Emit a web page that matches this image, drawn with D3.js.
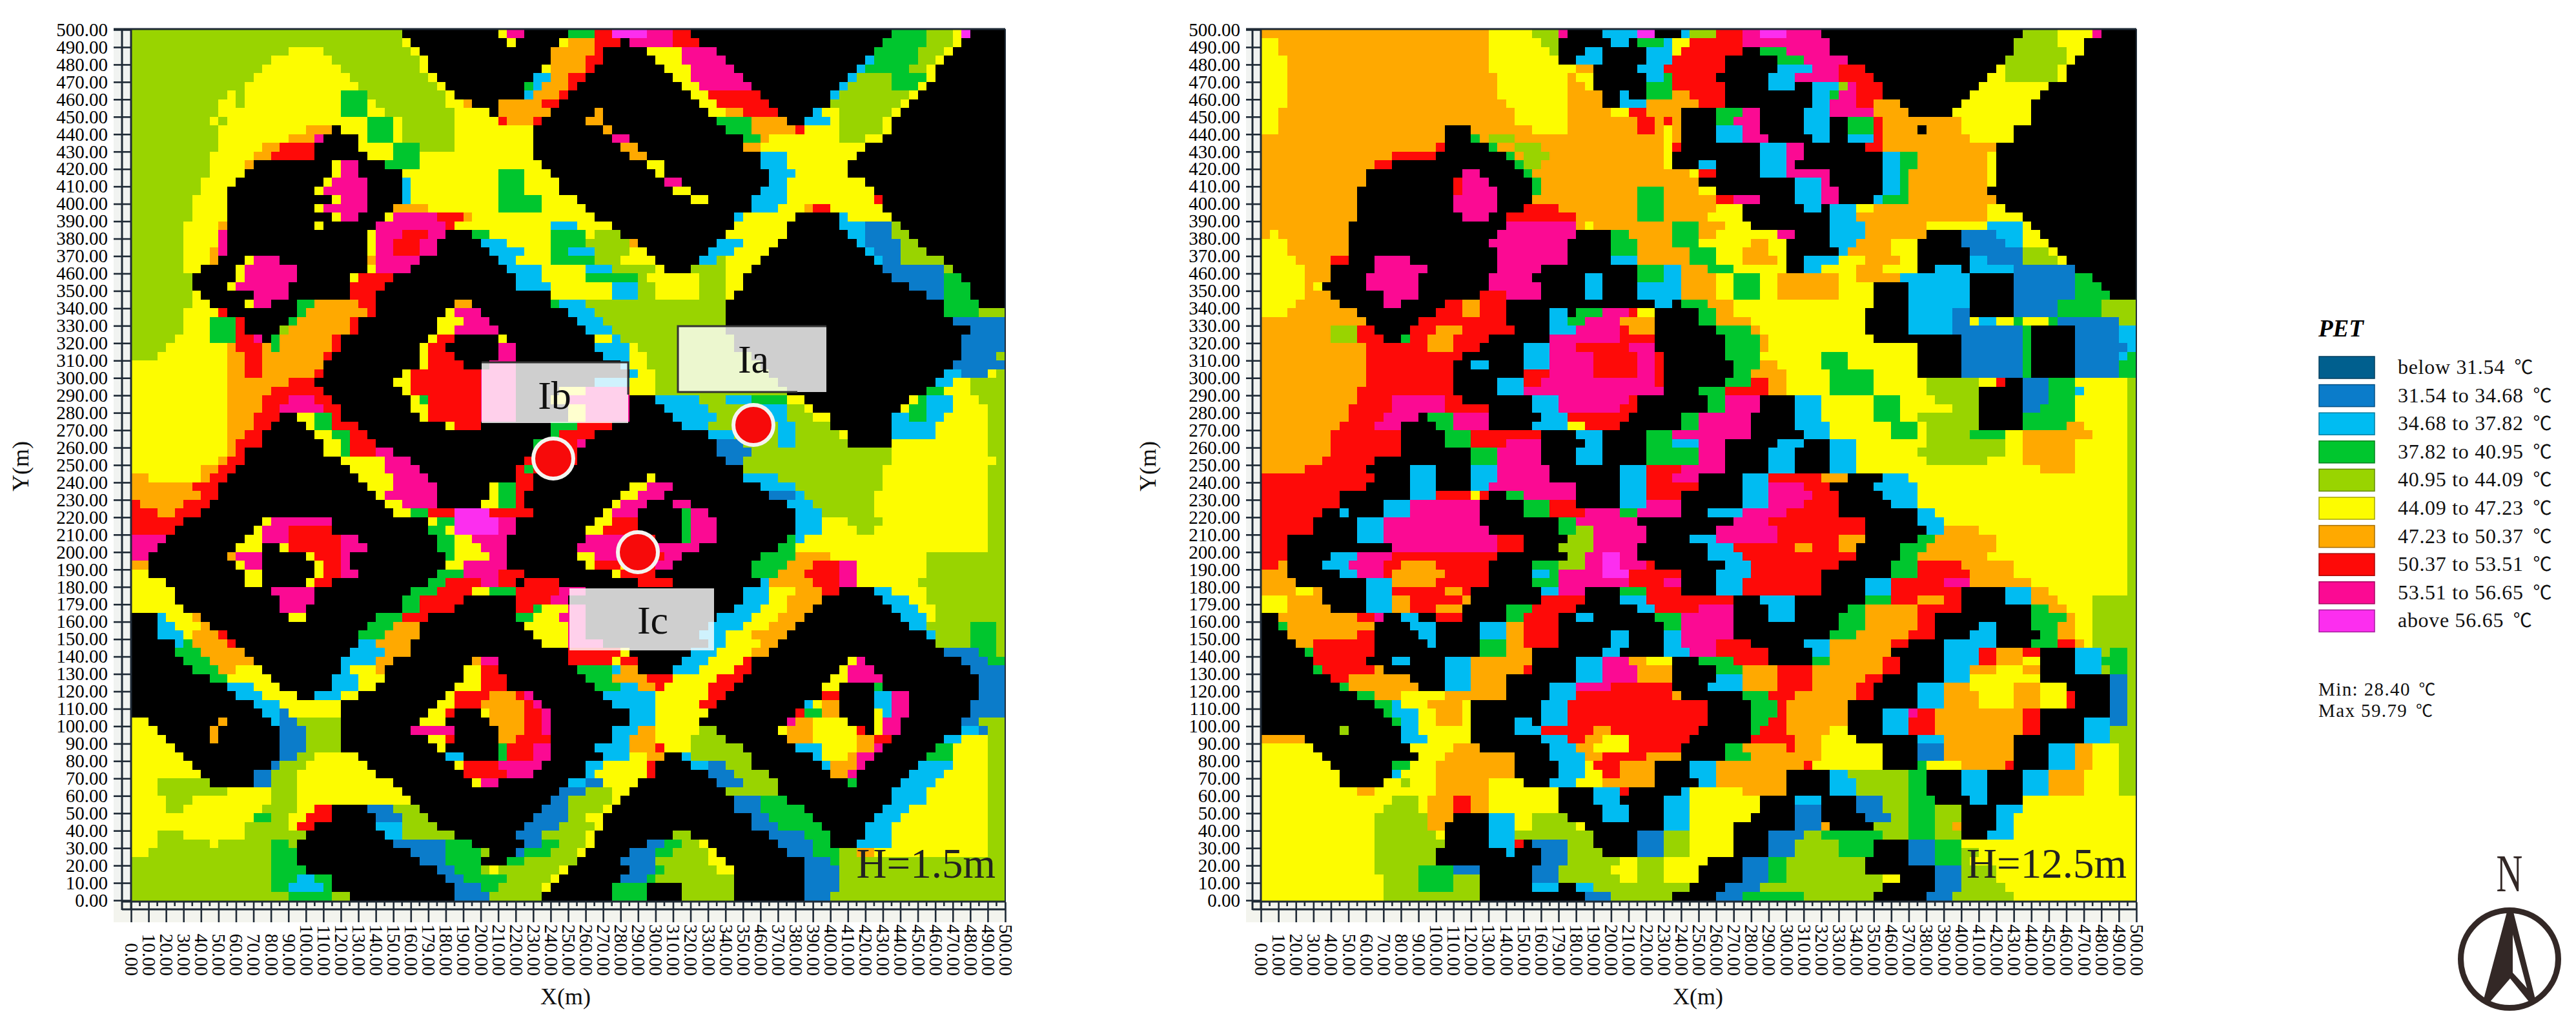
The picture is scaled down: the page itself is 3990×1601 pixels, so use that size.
<!DOCTYPE html>
<html><head><meta charset="utf-8">
<script src="https://cdnjs.cloudflare.com/ajax/libs/d3/7.8.5/d3.min.js"></script>
<style>html,body{margin:0;background:#fff}svg{display:block;font-family:"Liberation Serif",serif}</style>
</head><body><svg id="c" width="3990" height="1601"></svg>
<script>
const classes=["a","b","c","d","e","f","g","h","j","i","k"];
const classColors=["#005f8e","#0b7cca","#00bcf2","#00c62e","#99d400","#fdfc00","#ffa900","#fe0a08","#fb0a93","#fc2eef","#000000"];
const legendLabels=["below 31.54","31.54 to 34.68","34.68 to 37.82","37.82 to 40.95","40.95 to 44.09","44.09 to 47.23","47.23 to 50.37","50.37 to 53.51","53.51 to 56.65","above 56.65"];
const tickValues=d3.range(0,501,10);
const tickLabels=["0.00","10.00","20.00","30.00","40.00","50.00","60.00","70.00","80.00","90.00","100.00","110.00","120.00","130.00","140.00","150.00","160.00","179.00","180.00","190.00","200.00","210.00","220.00","230.00","240.00","250.00","260.00","270.00","280.00","290.00","300.00","310.00","320.00","330.00","340.00","350.00","460.00","370.00","380.00","390.00","400.00","410.00","420.00","430.00","440.00","450.00","460.00","470.00","480.00","490.00","500.00"];
// each row runs north to south; letter = PET class, number = 5 m column where that class ends
const rowsH15=[
"e31k42f43j45k50d53h55i59j62h64k87d91e94f95i96k100","e31f32k43f44k49f50g53h56k57j62h65k86d91e94f95k100","e18f22e32f33k48g53h54k59f63j67k85d90e93f94k100","e16f23e33f34k48g52h54k60f63j68k84c85d90e92f93k100","e15f24e33f34k47f48g52h53k61f64j69k83c84d89e91f92k100",
"e14f25e34f35k46c48g50h52k62f64j70k82c83e87d91f92k100","e13f26e35f36k45d46c47g50h51k63f65j71k81c82e87d90f91k100","e11f12e13f24d27e36f37k45c46g49h50k64f66h72k80c81e89f90k100","e10f12e13f24d27f28e36f38g39k42g47h49k65f67h73k80e88f89k100","e10f24d27f29e37f41k42g48k53g54k66f68g70h74k78c79f81e87f88k100",
"e9f10e11f27d30f31e37f42h43g46h47k52g54k67d71g75k77c80f81e86f87k100","e10f20g23k24f27d30f31e37f46k54g55k68d71g76h77f81e86f87k100","e10f18g21j22k26f27d30f31e37f46k55j57k70d72g73f81e84f86k100","e10f15g17h21k26f30d33e37f46k56g58k70g72f84k100","e9f14g16h21k27f30d33f46k57g59k72c75f83k100",
"e9f13g14k23f24j26k29d33f47k59f61k72c75f82k100","e9f13k23f24j26k31f42d45f48k60f61k73c76f82k100","e8f12k22f23j27k31c32f42d45f49k61j63k73c75f84k100","e8f11k21f22j27k31c32f42d45f49k62f64k72c75f85k100","e7f11k23f24j27k31c32f42d47f51k64f66k71c75f85h86k100",
"e7f11k21f22j27k30g34f42d47f52k71c74f77g78h80f86k100","e7f11k23f24j26k29f30j35h38g39f47f53k69c70f76k81c82f87k100","e6f10g11k21f22k28j36h37f48c51f55k69f75k81c84b87e88k100","e6f10j11k27f28j31h34j36k39d41f48d52f53e56k68f75k82c84b87e89k100","e6f10j11k27f28j30h33j35k40c43f48d52e57g58k67c70f74k83c84b88e90k100",
"e6f9g10j11k27f28j30h33j35k41c45f48d50c53e57f59k66c69f73k84c85b88e91k100","e6f9g10k13f14j17k27g28j33k42c44f48d53e56f60k65c67e68f72k85c86b88e93k100","e6f8k12f13j19k27f28j32k43c47f52c55e60f61k64e68f71k86b93e94k100","e7k12f13j19k25f26h30k44c47f52d58e59f65e68f70k87b93d95k100","e7k11f12j18k25h29k44c48f55c58e60f65e68f70k89b93d96k100",
"e7f8k14j18k25h28k48f55c58e60f65e68f69k91b93d96k100","e7f9k13f14j16k19d21g26h28k37g39k48d49c52e68k93d97k100","e6f10h11k19d20g27h28k36f37j40k50c53e68k93d97e100","e6f9d12h13k18d19g25h26k35f38j41k51c54e68k94b100","e6f9d12h13k17e18g25h26k35f37j42k52c55e68k96b100",
"e5f9d12h14j15k16d17g23h24k34f35h37k42f43k53f55c56e69k95b100","e4f11g12h15g16d17g23h24k33f34h36k42j44k53c57f58e69k95b100","e3f11g13h15g22h23k33f34h37k42j44k54c57f59e71k95b99e100","f11g13h15g22k33f34h38k41j44k56c57f59e72k94b100","f11g13h15g21h22k31f32h40j44k57c58f60e73k93c95b98f99e100",
"f11g18h21k30f32h40j44k53c57f60e74k92c94f96e100","f11g16h22k31f32h40j44k49f52j57f60e75k91d93f96e100","f11g15h18j21h23k32f33d34h40j44k48f50j57k60c65e68c71d75f77k89f90d91c94f97e100","f11g15h17j22h24k32f34h40j44k50f52j57k61c66e71c75e77f78k88f89d91c94f98e100","f11g14h17k19f21d23h24k33f34h40j44k50f52j57k62c67e71c75e78f80k87c89d91c93f98e100",
"f11g14h16k20f21d23h26k36f37h40k48d51h55k63c66e74c76e80k87c92f98e100","f11g13h15k21f23d25h27k48d49h53k66c69e74c76e81f82k87c92f98e100","f11g12h15k22f24d25h28k46d48h51j52k67b70e74c76e82k87f98e100","f11g12h13k22f24d25h28j30k46d48h51k67b71e87f98e100","f10g11h13k24f29j32k45h46d48h51k68b70e87f99e100",
"f8g10h12k25f29j33k44h45d46h49j50k70e86f98e100","g2f8g9h11k26f30j34k44h46k59f60k70c74e86f98e100","g7h10k27f30j35k41f42d44h46k57f59j62k72c76e86f98e100","g8h10k28f29j35k41f42d44h45k56f58j61k73b76c77e85f98e100","h1g6h9k29f31j35k40f42d44h45k55f56j59k62j64k75c78e85f98e100",
"h3g5h8k30f32d34h37i41h46k54f55j58k63d64j66k76c79e85f98e100","h6k15f16j23k34f35d37i42j44k53f55h58k63d64j67k76c79f82e86f98e100","h5k14f15j18h23k34d36f37i42j44k52f54h58k63d64j67k76c79f83e85f98e100","j4k13f15j18h24j26k35d37f39j43k52j57h60k63d64j67k75d76c77f98e100","j3k12f15k17f18h24j27k35d37f40j43k51j57h60j65k74d76f98e100",
"j2k11g12j15k20f21h24j25k36d37f41j43k51f53j57h61j63k72d76g80f91e100","g2k12f13j15k21f22h24j25k36f38j43k52f53h56f57h60j62k71d75g78h81j83f91e100","f2k13f15k21f22h24j26k35d38j42h45k55f56h60k71d74g77h81j83f91e100","f4k13f15k20f21h23k34d36h40j42h44k45h49k58h62k72c73g78h81j83f90e100","f5k16j21k32d35h39f41d44h49j52k70c73f76g79h81k85c87f91e100",
"f5k17j21k31d33h38k44h48j50k70c73f75g79k86c89f91e100","f6k17j20k31d33h37k44h46d47f50j52k69c72f75g78k87c90f92e100","k3c4f7g8k18f20k28d31h34k44d46f49j52k67c71f74g77k88c91f92e100","k3c5f8g9k27d30g33k45f50j52k66c70f73g76k89c91e96d99e100","k3c6f7g10h11k26d29g33k46f50j52k65c68f71g75k91c92e96d99e100",
"k5c6d7g11h12k26c28g32k47f50j54k66c68f72g74k92e96d99e100","k5d8g13k25c29g32k50h56f57k64c67f71g73k93b97d99e100","k6d9g14k24c28g30k39g40j42k50h55f56h58k63c66f70h71k82f83j84k95b98d100","k7d10g12f15k24c25f28g29k38f40h42k51d55c56g58k62c65f69h71k81f82j85k96b100","k9d11f16k23c26f29k38f40h43k52d55g59h62f67h70k80f82j86k97b100",
"k11c14f17k23c26f28k37f40h43k53d56c58g60h61f66h69k79f81k85d86k97b100","k12c15f19k21c24f26k36f37h41g44h45j46k54c60f66h68k79h81k85c87j89k97b100","k14c17f24k35f37h40g45h46j47k55c60f65h67k77c78f79g81k85c87j89k96b100","k15c17b18f24k34f36h37k40f41g45h47j48k57c60f66k76h77d79g81k85f86c87j89k96b100","f2k10g11k16c17b19e24k33f36k41g45h47j48k57c60f65k75j76g78f82k85f86j88k95b97e100",
"f3k9g10k17b20e24k32j37k42g45h47j48k55c58g60f65e67k74f75g78f83h84k85f86j88k95c97b98e100","f4k9g10k17b20e24k34f36h37k42g44h48k55c57g60f64e68k75g78f83g85h87k93c95f98e100","f5k17b20e24k35f36k42d43h46j48k53c57g60h61f64e70k76c79f83g85j86k92d94f98e100","f6k17b19e21f26k36c38k42d43h46j48k54c57f59g61k63c64e71k78c79f82g83j85k91d94f98e100","f7k16b17e20f27k37f38h42j47k52c54f59h60k64c66b68e71k79c80g83j84k90c94f98e100",
"f8k14b16e19f28k38h43j46k52c53f59h60k66b69e73k80g82j83k89c93f98e100","f3e9k14b16e19f30k39f40j42k50c52b54f58k67b70e74k82d83k88c92f98e100","f3e11f16e19f31k49b52e55f57k68e74k87c91f98e100","f4e7f16e19f32k48b50e55f56k69b72d75k87c91f98e100","f4e6f15e19f21h23k27b30e33k47b50e54f55k69b72d77k86c89f98e100",
"f14d16e18f20h23k28b31e34k46b50e52f54k71b73d78k85c88f98e100","f13e18f19h21k28c31e35k45b49e53f54k71b74d79k84c87f98e100","f3e6f13e20k29c31e37k44b47e52f53k62e64k73b77d80k84c87f98e100","f3e9f10e16d18e19k30b36d39k45b47d49e52f53k59b61d63e65f66k74b78d80k83c87f98e100","f2e16d19k32b36d40e41k44b45d48e51f52k57b60d62e66f67k75b78d81e83g85f98e100",
"e16d19k33b36d40k43d45e51k56b60e66f68k77b80d81e100","e16d20k35b37d40e41f42e49f50k57b60d61e67f69k77b81e100","e16d19c21d23k36b38d43e48f49k56b59d60e69k77b81e100","e16d18c22d23k37b40d42e47f48k55d59k63e69k77b81e100","e18d23e25k37b41e47k55d59k63e69k77b80e100"];
const rowsH125=[
"g26f31e34j35k39c43i45k48c49e52h55j57i60j64k87e91f95j96k100","f2g26f32e34k40c42k43d46c47f49h55j65k86e91f94k100","f2g26f33e34k37c39k44c47f48h55k57d60j65k86e92f94k100","f3g26f34k36c39k44c47h53k59d62j67k85e92f93k100","f3g26f36g38k43c46h53k59c63j66h69k84f85e91f92k100",
"f3g27f35g36f38k44c46d47h52k58c61j66h70k83f85e91f92k100","f3g27f35g37f38k44d47h53k58c61k63c66e67j68h71k82f90k100","f3g27f35g39k41c42k44d47g49h53k63c65d66j68h71k81f89k100","f3g28f35g39k41c44g50h53k63c65j68h70g73k80f88k100","f2g29f35g40f42h44g48k52d55j57k62c65j70g74k79f88k100",
"f2g29f35g43h45g46h47g48k52d54j57k62c65k67d70h71g80f88k100","f2g21k24g31f35g43h45g46f47g48k52c55j57k62c65k67d70h71g75k76g80f86k100","g21k24d25g26e29g46f47g48k52c55j58k63c65k67c70h71g81f86k100","g20h21k26d27g29e32g46f47h48k57c60j62k69h71g84k100","g15h20k28d29g30e33g46f47k57c60j62k71c73d75g83f84k100",
"g13h15k29d30e32g46f47k50c52k57c60j61k71c73d75g83f84k100","g12k23j25k30d31g49f50h52k57c60j65k71c73d74g83f84k100","g12k22h23j26k31d32g50k61c64j65k71c73d74g83f84k100","g11k22h23j27k31d32g43d46g50f52k61c64j66k71c73d74g83k100","g11k22j27k31g43d46g52h54j57k61c64j66k70c71d74g84k100",
"g11k22j27k30h34g43d46g52f55k62c64k65c68f70g83f85k100","g11k23j26k28h36g43d46g51f55k65c68g83f87k100","g10k28j36g37f38g47d50g53f56k65c69g76f83c87f88k100","g1f2g10k27j36k40d42g47d50g52f59j61k65c69g76k80b84c87f89k100","f3g10k26j35k40d43g47d50f56g58f60k65c68g72f75k80b85c87f90k100",
"f3g10k27j35k40d43g49d52f55g58f60k66c67g72f75k81b87e90f91k100","f4g8h10k13j17k27j35k40c43g49d52f55g59f60k62c66f69g73f75k81c83b87e91f92k100","f5g8k13j19k27j32k43d46c48g51d54f60k62c64f68g71f75k77c80k81c86b93k100","f5g8k12j18k26j31k37c39k43d46c48g52f54d57f59g66f68g73c81k86b93d95k100","f5g6f7k12j18k26j32k37c39k43c48g52f54d57f59g66f70k74c81k86b93d96k100",
"f5g8k14j18k25h28j32k37c39k43c48g52f54d57f59g66f70k74c81k86b93d97k100","f4g9k14j16k21h23g25h28k45c47k48d51g54f70k74c81k86b91d96e100","f3g11k20h23g25h28k33c35k36d39j42h43f45k50d52g54f69k74c79b81k86b91d96e100","g12k18h28k33c35d37j41g45k50d52g56f69k74c79b81f82c84f86d87f90d91b98e100","g8e11h13k17h20g23h29k33c36j41h42g45k52d56g57f69k74c79b87d88k93b98c100",
"g8e11h14k16d17h19g22h26k33j41h45k53d57g58f70k80b87d88k93b98c100","g12h19g22h25k30c33j36h42j45k53d57g58f75k80b87d88k93b99c100","g12h23k30c33j38h43j45h46k53d57f64d67f75k80b87d88k93b98c99d100","g12h22k24c26k30c33j38h43j45h46k54d57g59f64d67f75k80b87d88k93b98d100","g12h22k30h33j38h43j45h46k54d56g60f65d70f75k80b87d88k93b98d100",
"g12h22k27c30h32j45h46k53d56h58g60f65d70f76e82f84h85k87b90d93f99e100","g11h22k27c30j46k50d53h58g60f65d70f76e82k87b90d93c94f99e100","g11h15j21h23k31c34j42h43k51d53j57k61c64f70d73f77e82k87b90d93f99e100","g10h15j21h26k31c34j41h43k51d53j57k61c64f70d73f79e82k87b89d93f99e100","g10h14j18k19d22j26k32c35h42k48d50j56k61c64f70d73f75e82k87d93f99e100",
"g9h13j16k20d22j26k31c35f37h41k48d50j56k61c65f72d75f76e82k87d92g94f99e100","g8h16k21d24h32k36c39k44d47j56k62c65f72d75f76e81d85f87g95f99e100","g8h16k21d24h28j32k37c39k44d47c50j53k59c62k65c68f76e85f87g93f99e100","g8h16k24d27j32k36c39k44d50j53k58c61k65c68f75e85f87g93f99e100","g7h13k24d27j32k36c39k44d50j53k58c61k65c68f76e83f87g93f99e100",
"g5h12k17c20k24c27j33k41c44h48j53k58c61k65c68f89g93f99e100","h13k17c20k24c27j33k41c44h47j50k55c58h64g67k71c74f99e100","h12k17c20k24c26j36k41c44h50k55c58j62h65k70c75f99e100","h9k17c20h24f25h26k28d30j36k41c44h48k55c58j63h66k71c75f99e100","h9k14c17j25k30d33h36k41c44j48k55c58j62h66k72c75f99e100",
"h7k9c10k14c17j25k30d33h37j41d43j48k51c55j60h66k75c77f99e100","h6k11c14j25k34d36j43k54j58h69k75c78f99e100","h6k11c14j26k34d36e38j44k52j59h69k76c78g82f99e100","h3k11c14j27h30k35e38j44k49c52j59h66g69k75d77g84f99e100","h3k15j27h30k34e38j43k51c54h61g63h66g68k73d76g84f99e100",
"h3k8c11j15h27k35e37j39i41j43k51c55h68k73d75g83f99e100","h2g3k7c10j14h16g20h26k31d34e37j39i41j44h45k53c56h66k72d75h80g86f99e100","g3k9c11j14h15g21h26k31c33d34j39i42h48k52c56h64k72d75h81g86f99e100","g4k12c15g20h26k31d34j42h46j48k52c55h64k69c72h78j81g88f99e100","g4f6g7k12c15h21g23h24k32c34j37k41d44h48k52c55h64k69c72h80k85c88g90f99e100",
"f3g7k12c15g17h23g24k32h37k41c44h54k57c61k69d72h75g78h80k85c88g91f95e100","f3g8k12c15g17h20g23k28d31h36k43c45h50j54k58c61k67d69g75h80k88d90g92f95e100","k2g11h13j14k16c18k20h23k28d30h34k36c38k45d48j54k58c61k66d69g75h77k88d92g93f95e100","k2d3g13k17c20k25c28g30h34k46d48j54k66d69g75h77k82c84k88d91g93f95e100","k3g11h13k18c20k25c28g30h34k40c42k46c48j54k65d68g74h77k81c84k89d91g93f95e100",
"k4g6h13k19c20k25d28g30h34k40c42k46c48j52h56k62c65g72h74k78c84k88d91h93g94f95e100","k5d6h13k25d28g31k39c41k46c49j52h58k63c65g72k78c82h84g87h89k93c96e97d99e100","k6h12k15c17k21c24g31k36c39j42g44f47k50d54h58k63d65g71h73k78c82h84g87f89k93c96d99e100","k6d7h13g14k21c24g30h31k36c39j43g47k52d55g59h63g71h73k78c81g84f87g89k93c96e97d99e100","k8h10g17k21c24g28k36c39j43g47k52c55g59h63g69h71k78c81f89k97b99e100",
"k9d10g18k21c24g28k33c36j40h47k51c55g59h63g68h70k75c78g81f86g89f92k97b99e100","k11d13g16f21g28k33c36h47g48k55d58h61g68h70k75c78g82f86g89f92h93k97b99e100","k13d15c16f19g23f24k32c35h51k56d59h60g67k75c78g82f86g89f92h93k97b99e100","k14d15c18f20g23f24k32c35h51k56d59h60g67k71c74j75h77g87h89k97b99e100","k15d16c18f20g23f24k29c31k32c35h51k56d58h60g67k71c74h77g87h89k94c97b99e100",
"k9e10k16c18f24k29c32h38g40h50k56d57h60g65f67k71c74h77g87h89k94c97e100","g5k16c19f24k32c35h37g39f42h49k56h61g64f68k75c78g86k94c97e100","f6k17f22g25k33c36g38f42h48k53d55g60h61g64f71k75b78g86k90c93g95f98e100","f7k18f21g29k33c37g39h44g48k53d56g64f71k75b78g86k90c93g95f98e100","f8k15d17f20g29k34c37f38h41g45k49c52g62h63f71k75d76f80g85h86k90c93g95f98e100",
"f9k15c16f20g29k34c37f39h41g45k49c52g60k65c67e74d76k80c83k87c90g94f98e100","f9k14f16e17f20g26f30k33c36f39g45k50c52g60k65c68e74d76k80c83k87c90g94f98e100","f11g13f20g26f34k38c41h42k48c49f55g60k65c68e74d76k80c83k87c90g94f98e100","f15e18f19g22h24g26f34k38c41k46c49f57k61c64k68b71e74d77k81c83k87f100","f14e18f19g22h24g26f34k39c42k46c49f57k61b64k68b71e74d77e80k84c87f100",
"f13e19g22k26c29f31e35k39c42k46c49f56k61b64k69b72e74d77e80k84c86f100","f13e19g21k26c29f31e36f37k46c49f54k61b64g65k70e74d77e79g80k84c86f100","f13e20f21k26c29e38k43b46e49f54k58b62e64d71e74d77e80k83c86f100","f13e21k26c29h30k31b35e38k43b46e49f54k58b61e66d70k74b77d80f100","f13e20k28c29k32b35e39k43b46e49f54k58b61e66d70k74b77d80e82f100",
"f13e20k32b35e41f43e46f51k55b58d60e69k74b77d80e81f100","f13e18d22b25k31b34e40f43e46f50k55b58d60e69k77b80e84f100","f14e18d22e25k31b34e41f43e46f50k55b58d60e71f73k77b80e84f100","f14e18d22e25k31c34k36c38e49k53b57e71k77b80e85f100","f14e25k37b40e47k52b55d62e70k76b79e86f100"];
const panelNames=["H=1.5m","H=12.5m"];
const siteLabels=["Ia","Ib","Ic"];

const svg=d3.select("#c");
const color=d3.scaleOrdinal(classes,classColors);
const cellM=5;
function parseRows(rows){
  const runs=[];
  rows.forEach((s,r)=>{
    let start=0;
    for(const m of s.matchAll(/([a-k])(\d+)/g)){
      const end=+m[2];
      if(end>start){runs.push({r,start,end,c:m[1]});start=end;}
    }
  });
  return runs;
}
const ink="#1f2a36";
function panel(rows,left,right,axisLineX,tickStartX,titleX,xTitleX,label,labelX){
  const x=d3.scaleLinear([0,500],[left,right]);
  const y=d3.scaleLinear([0,500],[1394,46]);
  const g=svg.append("g");
  g.append("rect").attr("x",tickStartX).attr("y",46).attr("width",left-tickStartX).attr("height",1382).attr("fill","#f1f3f1");
  g.append("rect").attr("x",tickStartX).attr("y",1394).attr("width",right-tickStartX).attr("height",34).attr("fill","#f3f4ee");
  g.append("g").attr("shape-rendering","crispEdges").selectAll("rect").data(parseRows(rows)).join("rect")
    .attr("x",d=>x(d.start*cellM)).attr("width",d=>x(d.end*cellM)-x(d.start*cellM)+0.5)
    .attr("y",d=>y(500-d.r*cellM)).attr("height",d=>y(500-(d.r+1)*cellM)-y(500-d.r*cellM)+0.5)
    .attr("fill",d=>color(d.c));
  const ax=d3.axisBottom(x).tickValues(tickValues).tickSize(31).tickFormat((d,i)=>tickLabels[i]);
  const xg=g.append("g").attr("transform","translate(0,1397)").call(ax);
  xg.select(".domain").remove();
  xg.selectAll("line").attr("stroke",ink).attr("stroke-width",2.6);
  xg.selectAll("text").attr("fill","#000").attr("font-size",29).attr("font-family","Liberation Serif")
    .attr("text-anchor","end").attr("transform","translate(0,114) rotate(90)").attr("x",0).attr("y",0).attr("dy","0.33em");
  const ay=d3.axisLeft(y).tickValues(tickValues).tickSize(left-tickStartX).tickFormat((d,i)=>tickLabels[i]);
  const yg=g.append("g").attr("transform",`translate(${left},0)`).call(ay);
  yg.select(".domain").remove();
  yg.selectAll("line").attr("stroke",ink).attr("stroke-width",2.6);
  yg.selectAll("text").attr("fill","#000").attr("font-size",29).attr("font-family","Liberation Serif").attr("x",tickStartX-left-9);
  const frame=g.append("g").attr("stroke",ink).attr("fill","none").attr("stroke-width",3);
  frame.append("line").attr("x1",axisLineX).attr("x2",axisLineX).attr("y1",46).attr("y2",1409);
  frame.append("line").attr("x1",left).attr("x2",left).attr("y1",45).attr("y2",1409);
  frame.append("line").attr("x1",axisLineX).attr("x2",right).attr("y1",1408).attr("y2",1408);
  frame.append("line").attr("x1",axisLineX).attr("x2",right).attr("y1",1396).attr("y2",1396);
  frame.append("line").attr("x1",tickStartX).attr("x2",right).attr("y1",45).attr("y2",45);
  frame.append("line").attr("x1",right).attr("x2",right).attr("y1",45).attr("y2",1409).attr("stroke-width",2);
  g.append("g").selectAll("line").data(d3.range(5,500,10)).join("line")
    .attr("x1",d=>x(d)).attr("x2",d=>x(d)).attr("y1",1396).attr("y2",1403).attr("stroke",ink).attr("stroke-width",2.6);
  g.append("text").text("Y(m)").attr("font-size",36).attr("text-anchor","middle").attr("fill","#111")
    .attr("transform",`translate(${titleX},722) rotate(-90)`);
  g.append("text").text("X(m)").attr("font-size",36).attr("text-anchor","middle").attr("fill","#111")
    .attr("x",xTitleX).attr("y",1555);
  g.append("text").text(label).attr("font-size",65).attr("fill","#222").attr("text-anchor","end")
    .attr("x",labelX).attr("y",1359);
}
panel(rowsH15,203,1557,189,176,44,876,panelNames[0],1542);
panel(rowsH125,1953,3309,1940,1930,1790,2630,panelNames[1],3294);

const boxX=[1050,746,882],boxY=[505,561,911],boxW=[230,227,224],boxH=[102,94,96];
const textX=[1167,859,1011],textY=[577,633,981];
const anns=svg.append("g");
siteLabels.forEach((t,i)=>{
  anns.append("rect").attr("x",boxX[i]).attr("y",boxY[i]).attr("width",boxW[i]).attr("height",boxH[i])
    .attr("fill","rgba(255,255,255,0.81)");
  if(i===0){anns.append("path").attr("d",`M${boxX[i]+boxW[i]},${boxY[i]}H${boxX[i]}V${boxY[i]+boxH[i]}H${boxX[i]+boxW[i]-45}`).attr("fill","none").attr("stroke","#333").attr("stroke-width",3);}
  if(i===1){anns.append("path").attr("d",`M${boxX[i]},${boxY[i]}H${boxX[i]+boxW[i]}V${boxY[i]+50}`).attr("fill","none").attr("stroke","#333").attr("stroke-width",3);}
  anns.append("text").text(t).attr("x",textX[i]).attr("y",textY[i]).attr("font-size",62).attr("text-anchor","middle").attr("fill","#111");
});
const markerX=[1167,857,988],markerY=[658,710,855];
anns.selectAll("circle").data(markerX).join("circle")
  .attr("cx",d=>d).attr("cy",(d,i)=>markerY[i]).attr("r",31)
  .attr("fill","#f70a0a").attr("stroke","#f4f4f0").attr("stroke-width",6);

const lg=svg.append("g");
lg.append("text").text("PET").attr("x",3591).attr("y",521).attr("font-size",37).attr("font-weight","bold").attr("font-style","italic").attr("fill","#000");
const ly=d3.scaleLinear([0,9],[552,944.4]);
lg.selectAll("rect").data(legendLabels).join("rect")
  .attr("x",3592).attr("y",(d,i)=>ly(i)).attr("width",86).attr("height",34)
  .attr("fill",(d,i)=>color(classes[i])).attr("stroke",(d,i)=>d3.color(color(classes[i])).darker(1.2)).attr("stroke-width",1.5);
const degFont='"Noto Sans CJK SC"';
lg.selectAll("text.l").data(legendLabels).join("text").attr("class","l")
  .attr("x",3714).attr("y",(d,i)=>ly(i)+27).attr("font-size",32).attr("fill","#111").attr("letter-spacing",0.7)
  .html(d=>`${d} <tspan font-family='${degFont}' font-size="29" dx="6">℃</tspan>`);
lg.append("text").attr("x",3591).attr("y",1077).attr("font-size",29).attr("fill","#111").attr("letter-spacing",1.4)
  .html(`Min: 28.40 <tspan font-family='${degFont}' font-size="26" dx="4">℃</tspan>`);
lg.append("text").attr("x",3591).attr("y",1110).attr("font-size",29).attr("fill","#111").attr("letter-spacing",1.4)
  .html(`Max 59.79 <tspan font-family='${degFont}' font-size="26" dx="4">℃</tspan>`);

const na=svg.append("g").attr("fill","#332826");
na.append("text").text("N").attr("font-size",83).attr("text-anchor","middle")
  .attr("transform","translate(3887,1380) scale(0.68,1)");
na.append("circle").attr("cx",3887).attr("cy",1485).attr("r",75.5).attr("fill","none").attr("stroke","#332826").attr("stroke-width",9);
na.append("path").attr("fill-rule","evenodd")
  .attr("d","M3883,1412L3893,1412L3927,1547L3918,1552L3888,1515L3857,1551L3847,1547Z M3892,1447L3892,1506L3914,1530Z");
</script></body></html>
